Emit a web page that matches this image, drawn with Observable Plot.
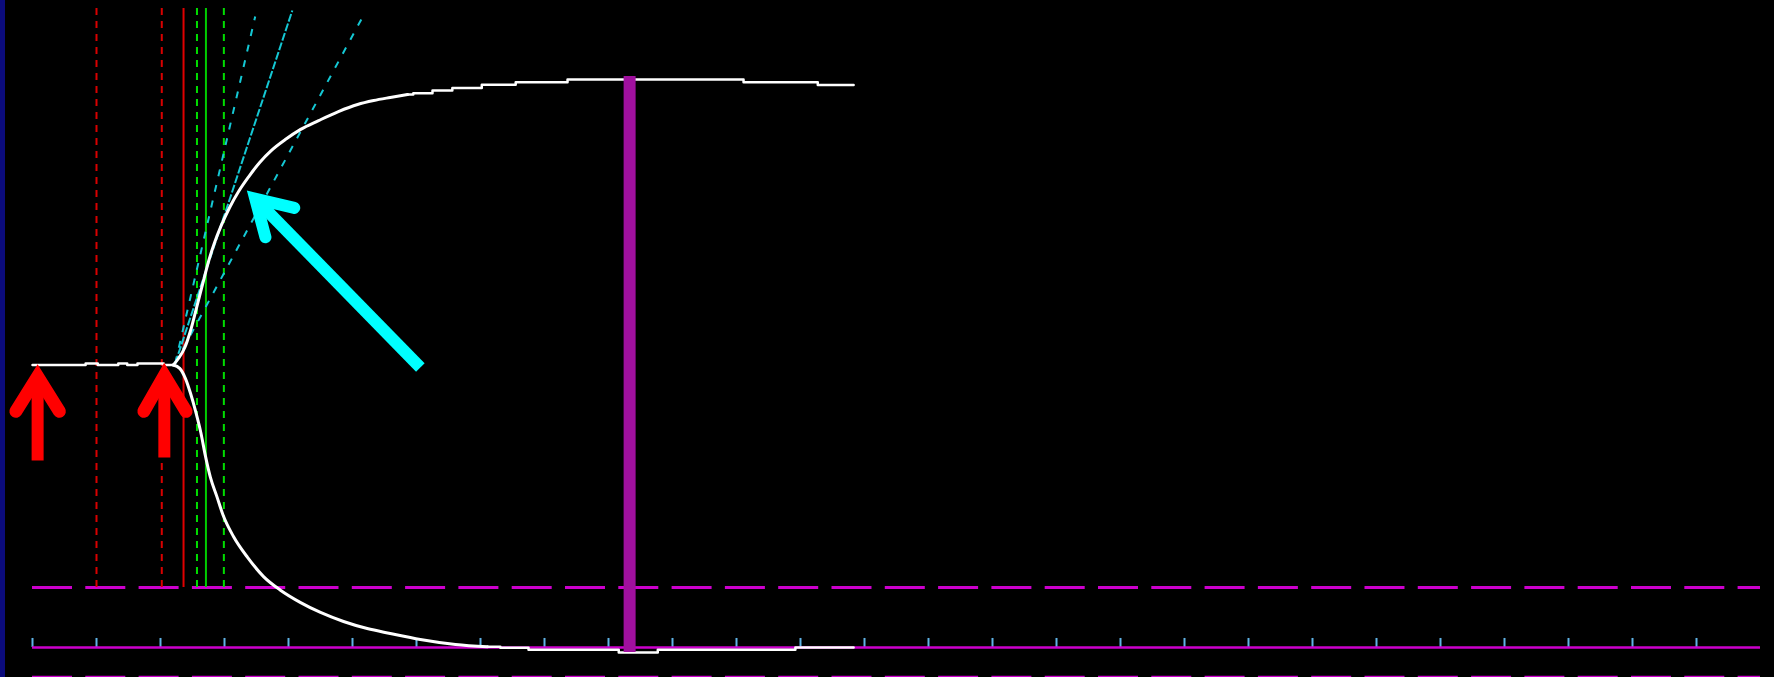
<!DOCTYPE html>
<html>
<head>
<meta charset="utf-8">
<script src="https://cdn.jsdelivr.net/npm/d3@7"></script>
<script src="https://cdn.jsdelivr.net/npm/@observablehq/plot@0.6"></script>
<style>
  html, body { margin: 0; padding: 0; background: #000; overflow: hidden; }
  #chart { position: relative; width: 1774px; height: 677px; }
  #chart::before {
    content: ""; position: absolute; left: 0; top: 0; width: 5px; height: 100%;
    background: #0b0b7c; z-index: 1;
  }
  #chart svg { display: block; }
</style>
</head>
<body>
<div id="chart"></div>
<script>
// Horizontal axis: time in divisions; vertical axis: signal level in % of step height.
const divisions = [0, 1, 2, 3, 4, 5, 6, 7, 8, 9, 10, 11, 12, 13, 14, 15, 16, 17, 18, 19, 20, 21, 22, 23, 24, 25, 26];
const guideSpan = [0, 27];
const baselineLevel = 0;
const triggerLevel = 21.2;
const lowerGuideLevel = -10.5;
const tickLength = 3.2;

// Cursor lines (time positions) and their vertical extent
const cursorSpan = [226.2, 21.2];
const redDashedX = [1.0, 2.02];
const redSolidX = [2.36];
const greenDashedX = [2.57, 2.99];
const greenSolidX = [2.71];

// Signal before the step
const flatTrace = [[0, 100], [0.83, 100.5], [1.02, 100], [1.34, 100.5], [1.48, 100], [1.64, 100.5], [2.05, 100], [2.2, 100]];

// Rising branch and its quantised settling plateau
const riseTrace = [[2.2, 100], [2.28, 102.3], [2.38, 106.2], [2.47, 112.2], [2.56, 120.0], [2.66, 128.8], [2.75, 136.6],
  [2.84, 143.0], [2.95, 149.4], [3.08, 155.75], [3.22, 161.4], [3.38, 166.7], [3.55, 171.7], [3.73, 175.9],
  [3.95, 179.8], [4.19, 183.4], [4.47, 186.5], [4.78, 189.7], [5.08, 192.2], [5.33, 193.6], [5.59, 194.7], [5.86, 195.75]];
const risePlateau = [[5.86, 195.75], [5.95, 196.2], [6.25, 197.2], [6.56, 198.1], [7.02, 199.2], [7.55, 200.1],
  [8.36, 201.1], [11.11, 200.1], [12.27, 199.1], [12.83, 199.1]];

// Falling branch and its quantised settling plateau
const fallTrace = [[2.2, 100], [2.3, 98.8], [2.39, 95.2], [2.47, 89.9], [2.55, 83.5], [2.63, 76.1], [2.7, 68.0],
  [2.78, 60.2], [2.88, 53.5], [2.98, 46.7], [3.14, 39.3], [3.36, 31.9], [3.61, 25.1], [3.88, 20.2], [4.19, 15.9],
  [4.5, 12.4], [4.86, 9.2], [5.23, 6.7], [5.59, 4.96], [6.06, 2.83], [6.61, 1.06], [7.11, 0.25]];
const fallPlateau = [[7.11, 0.25], [7.31, -0.1], [7.75, -0.8], [9.16, -1.8], [9.77, -0.8], [11.92, 0], [12.83, 0]];

// Slope tangents fanning out from the step onset
const tangentOrigin = [2.23, 100.6];
const tangentDashedEnds = [[3.48, 223.4], [5.17, 223.7]];
const tangentMainEnd = [[4.06, 225.5]];

// Settling marker
const markerBarX = [9.33];
const markerBarSpan = [-1.8, 202.1];

// Annotation arrows: tail, tip, and the two head barbs
const redArrowTails = [[0.08, 66.2], [2.06, 67.3]];
const redArrowTips = [[0.08, 95.9], [2.06, 96.3]];
const redArrowBarbs = [[[-0.26, 83.6], [0.42, 83.6]], [[1.74, 83.6], [2.4, 83.6]]];
const cyanArrowTails = [[6.06, 99.1]];
const cyanArrowTips = [[3.48, 158.9]];
const cyanArrowBarbs = [[[3.64, 145.2], [4.09, 155.6]]];

const pts = (arr) => arr.map(([x, y]) => ({x, y}));
const heads = (tips, barbs) => tips.flatMap((t, i) => [
  {id: i, x: barbs[i][0][0], y: barbs[i][0][1]},
  {id: i, x: t[0], y: t[1]},
  {id: i, x: barbs[i][1][0], y: barbs[i][1][1]}
]);
const shafts = (tails, tips) => tails.map((t, i) => ({x1: t[0], y1: t[1], x2: tips[i][0], y2: tips[i][1]}));
const tangents = (ends) => ends.map(e => ({x1: tangentOrigin[0], y1: tangentOrigin[1], x2: e[0], y2: e[1]}));

const magenta = "#cc00cc";
const cursorOpts = (color, dashed) => ({
  y1: () => cursorSpan[0], y2: () => cursorSpan[1],
  stroke: color, strokeWidth: 2, strokeDasharray: dashed ? "7,6" : null
});

const chart = Plot.plot({
  width: 1774,
  height: 677,
  margin: 0,
  x: {domain: [-0.5, 27.21875], axis: null},
  y: {domain: [-10.62, 229.03], axis: null},
  style: {background: "#000"},
  marks: [
    // horizontal guides
    Plot.ruleY([lowerGuideLevel], {x1: () => guideSpan[0], x2: () => guideSpan[1], stroke: magenta, strokeWidth: 3, strokeDasharray: "40,13.3"}),
    Plot.ruleY([triggerLevel], {x1: () => guideSpan[0], x2: () => guideSpan[1], stroke: magenta, strokeWidth: 3, strokeDasharray: "40,13.3"}),
    Plot.ruleX(divisions, {x: d => d, y1: () => baselineLevel, y2: () => tickLength, stroke: "#5fb3e6", strokeWidth: 2}),
    Plot.ruleY([baselineLevel], {x1: () => guideSpan[0], x2: () => guideSpan[1], stroke: magenta, strokeWidth: 2.5}),

    // cursors
    Plot.ruleX(redDashedX, {x: d => d, ...cursorOpts("#d80000", true)}),
    Plot.ruleX(redSolidX, {x: d => d, ...cursorOpts("#e00000", false)}),
    Plot.ruleX(greenDashedX, {x: d => d, ...cursorOpts("#00dd00", true)}),
    Plot.ruleX(greenSolidX, {x: d => d, ...cursorOpts("#00cc00", false)}),

    // slope tangents
    Plot.link(tangents(tangentDashedEnds), {x1: "x1", y1: "y1", x2: "x2", y2: "y2", stroke: "#14c8d4", strokeWidth: 2, strokeDasharray: "7,9"}),
    Plot.link(tangents(tangentMainEnd), {x1: "x1", y1: "y1", x2: "x2", y2: "y2", stroke: "#14c8d4", strokeWidth: 2, strokeDasharray: "8,2"}),

    // signal trace
    Plot.line(pts(flatTrace), {x: "x", y: "y", curve: "step-after", stroke: "#fff", strokeWidth: 2.5}),
    Plot.line(pts(riseTrace), {x: "x", y: "y", curve: "monotone-x", stroke: "#fff", strokeWidth: 3}),
    Plot.line(pts(risePlateau), {x: "x", y: "y", curve: "step-after", stroke: "#fff", strokeWidth: 2.5}),
    Plot.line(pts(fallTrace), {x: "x", y: "y", curve: "monotone-x", stroke: "#fff", strokeWidth: 3}),
    Plot.line(pts(fallPlateau), {x: "x", y: "y", curve: "step-after", stroke: "#fff", strokeWidth: 2.5}),

    // settling marker bar
    Plot.ruleX(markerBarX, {x: d => d, y1: () => markerBarSpan[0], y2: () => markerBarSpan[1], stroke: "#a0109e", strokeWidth: 12, strokeLinecap: "butt"}),

    // annotation arrows
    Plot.link(shafts(redArrowTails, redArrowTips), {x1: "x1", y1: "y1", x2: "x2", y2: "y2", stroke: "#ff0000", strokeWidth: 12, strokeLinecap: "butt"}),
    Plot.line(heads(redArrowTips, redArrowBarbs), {x: "x", y: "y", z: "id", stroke: "#ff0000", strokeWidth: 13, strokeLinecap: "round", strokeLinejoin: "miter", strokeMiterlimit: 10}),
    Plot.link(shafts(cyanArrowTails, cyanArrowTips), {x1: "x1", y1: "y1", x2: "x2", y2: "y2", stroke: "#00ffff", strokeWidth: 12, strokeLinecap: "butt"}),
    Plot.line(heads(cyanArrowTips, cyanArrowBarbs), {x: "x", y: "y", z: "id", stroke: "#00ffff", strokeWidth: 12, strokeLinecap: "round", strokeLinejoin: "miter", strokeMiterlimit: 10})
  ]
});

document.getElementById("chart").appendChild(chart);
</script>
</body>
</html>
